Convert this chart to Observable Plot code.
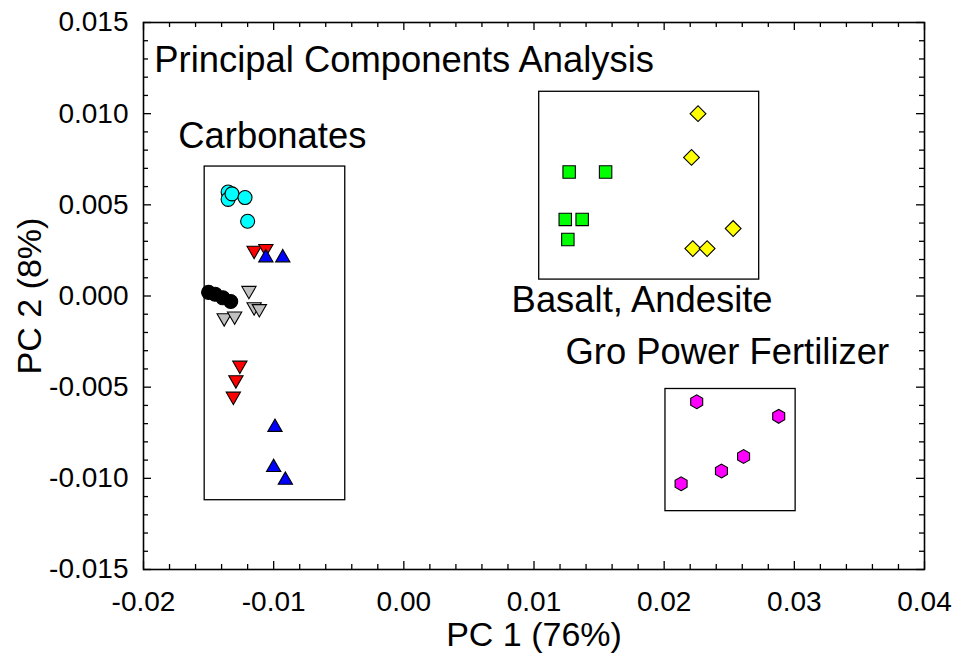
<!DOCTYPE html>
<html><head><meta charset="utf-8">
<script src="https://cdn.jsdelivr.net/npm/d3@7"></script>
<script src="https://cdn.jsdelivr.net/npm/@observablehq/plot@0.6"></script>
<style>body{margin:0;background:#fff}</style>
</head><body><div id="chart"></div>
<script>
// Tick values
const xMajor = [-0.02, -0.01, 0.00, 0.01, 0.02, 0.03, 0.04];
const yMajor = [-0.015, -0.010, -0.005, 0.000, 0.005, 0.010, 0.015];
const xMinor = [-0.018,-0.016,-0.014,-0.012,-0.008,-0.006,-0.004,-0.002,0.002,0.004,0.006,0.008,0.012,0.014,0.016,0.018,0.022,0.024,0.026,0.028,0.032,0.034,0.036,0.038];
const yMinor = [-0.014,-0.013,-0.012,-0.011,-0.009,-0.008,-0.007,-0.006,-0.004,-0.003,-0.002,-0.001,0.001,0.002,0.003,0.004,0.006,0.007,0.008,0.009,0.011,0.012,0.013,0.014];

// Carbonate groups
const cyanX  = [-0.0135, -0.0135, -0.0132, -0.0122, -0.0120];
const cyanY  = [0.0057, 0.0053, 0.0056, 0.0054, 0.0041];
const redX   = [-0.0115, -0.0106, -0.0126, -0.0129, -0.0131];
const redY   = [0.0025, 0.0026, -0.0038, -0.0046, -0.0055];
const blueX  = [-0.0106, -0.0093, -0.0099, -0.0100, -0.0091];
const blueY  = [0.0021, 0.0021, -0.0072, -0.0094, -0.0101];
const blackX = [-0.0150, -0.0145, -0.0139, -0.0133];
const blackY = [0.0002, 0.0001, -0.0001, -0.0003];
const grayX  = [-0.0119, -0.0115, -0.0111, -0.0138, -0.0130];
const grayY  = [0.0003, -0.0006, -0.0007, -0.0012, -0.0011];
// Basalt, Andesite
const greenX  = [0.0127, 0.0155, 0.0124, 0.0137, 0.0126];
const greenY  = [0.0068, 0.0068, 0.0042, 0.0042, 0.0031];
const yellowX = [0.0226, 0.0221, 0.0253, 0.0222, 0.0233];
const yellowY = [0.0100, 0.0076, 0.0037, 0.0026, 0.0026];
// Gro Power Fertilizer
const magentaX = [0.0225, 0.0288, 0.0261, 0.0244, 0.0213];
const magentaY = [-0.0058, -0.0066, -0.0088, -0.0096, -0.0103];

// Group boxes (data units)
const boxNames = ["Carbonates", "Basalt, Andesite", "Gro Power Fertilizer"];
const boxX1 = [-0.0153, 0.0104, 0.0201];
const boxX2 = [-0.0045, 0.0273, 0.0301];
const boxY1 = [-0.0112, 0.0009, -0.0118];
const boxY2 = [0.0071, 0.0112, -0.0051];

// Annotation labels (data units, left anchored)
const labelText = ["Principal Components Analysis", "Carbonates", "Basalt, Andesite", "Gro Power Fertilizer"];
const labelX = [-0.01917, -0.01733, 0.00828, 0.01242];
const labelY = [0.01290, 0.00877, -0.00023, -0.00311];

const zip = (xs, ys) => xs.map((x, i) => ({x, y: ys[i]}));
const series = [
  {data: zip(cyanX, cyanY), fill: "#00ffff", symbol: "circle", r: 7, rotate: 0},
  {data: zip(blackX, blackY), fill: "#000000", symbol: "circle", r: 7, rotate: 0},
  {data: zip(grayX, grayY), fill: "#c0c0c0", symbol: "triangle", r: 5.3, rotate: 180},
  {data: zip(redX, redY), fill: "#ff0000", symbol: "triangle", r: 5.3, rotate: 180},
  {data: zip(blueX, blueY), fill: "#0000ff", symbol: "triangle", r: 5.3, rotate: 0},
  {data: zip(greenX, greenY), fill: "#00ff00", symbol: "square", r: 7, rotate: 0},
  {data: zip(yellowX, yellowY), fill: "#ffff00", symbol: "square", r: 6.3, rotate: 45},
  {data: zip(magentaX, magentaY), fill: "#ff00ff", symbol: "hexagon", r: 6, rotate: 0}
];
const boxes = boxNames.map((n, i) => ({n, x1: boxX1[i], x2: boxX2[i], y1: boxY1[i], y2: boxY2[i]}));
const labels = labelText.map((t, i) => ({t, x: labelX[i], y: labelY[i]}));

const W = 957, H = 653, mL = 143, mR = 33, mT = 22, mB = 84;
const pw = W - mL - mR, ph = H - mT - mB;
const font = "'Liberation Sans', Arial, Helvetica, sans-serif";

const chart = Plot.plot({
  width: W, height: H,
  marginLeft: mL, marginRight: mR, marginTop: mT, marginBottom: mB,
  style: {fontFamily: font, background: "#fff", color: "#000"},
  x: {domain: [-0.02, 0.04]},
  y: {domain: [-0.015, 0.015]},
  marks: [
    Plot.frame({stroke: "black", strokeWidth: 1.6}),
    // inward ticks on all sides
    Plot.tickX(xMajor, {x: d => d, insetTop: ph - 8, stroke: "black", strokeWidth: 1.3}),
    Plot.tickX(xMinor, {x: d => d, insetTop: ph - 5, stroke: "black", strokeWidth: 1.3}),
    Plot.tickX(xMajor, {x: d => d, insetBottom: ph - 8, stroke: "black", strokeWidth: 1.3}),
    Plot.tickX(xMinor, {x: d => d, insetBottom: ph - 5, stroke: "black", strokeWidth: 1.3}),
    Plot.tickY(yMajor, {y: d => d, insetRight: pw - 8, stroke: "black", strokeWidth: 1.3}),
    Plot.tickY(yMinor, {y: d => d, insetRight: pw - 5, stroke: "black", strokeWidth: 1.3}),
    Plot.tickY(yMajor, {y: d => d, insetLeft: pw - 8, stroke: "black", strokeWidth: 1.3}),
    Plot.tickY(yMinor, {y: d => d, insetLeft: pw - 5, stroke: "black", strokeWidth: 1.3}),
    Plot.axisX({ticks: xMajor, tickFormat: d => d.toFixed(2), tickSize: 0, tickPadding: 22, fontSize: 28, label: null}),
    Plot.axisY({ticks: yMajor, tickFormat: d => d.toFixed(3), tickSize: 0, tickPadding: 15, fontSize: 28, label: null}),
    Plot.text(["PC 1 (76%)"], {frameAnchor: "bottom", textAnchor: "middle", lineAnchor: "top", dy: 52, fontSize: 34, fill: "black"}),
    Plot.text(["PC 2 (8%)"], {frameAnchor: "left", textAnchor: "middle", lineAnchor: "middle", dx: -113, rotate: -90, fontSize: 34, fill: "black"}),
    Plot.rect(boxes, {x1: "x1", x2: "x2", y1: "y1", y2: "y2", fill: "none", stroke: "black", strokeWidth: 1.3}),
    ...series.map(s => Plot.dot(s.data, {x: "x", y: "y", fill: s.fill, stroke: "black", strokeWidth: 1.1, symbol: s.symbol, r: s.r, rotate: s.rotate})),
    Plot.text(labels, {x: "x", y: "y", text: "t", textAnchor: "start", fontSize: 36.4, fill: "black"})
  ]
});
document.getElementById("chart").append(chart);
</script>
</body></html>
